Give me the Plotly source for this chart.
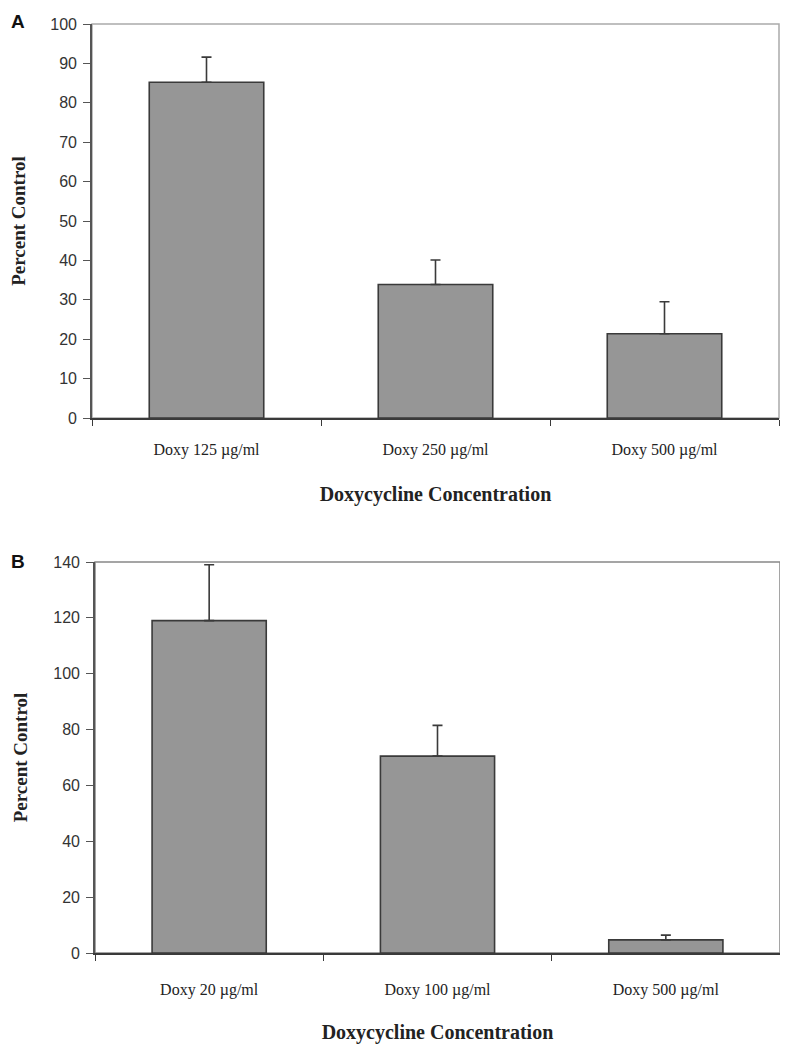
import plotly.graph_objects as go

cats_a = ["Doxy 125 µg/ml", "Doxy 250 µg/ml", "Doxy 500 µg/ml"]
vals_a = [85.2, 33.9, 21.4]
err_a = [6.4, 6.2, 8.1]

cats_b = ["Doxy 20 µg/ml", "Doxy 100 µg/ml", "Doxy 500 µg/ml"]
vals_b = [119.0, 70.5, 4.7]
err_b = [20.0, 11.0, 1.7]

yticks_a = list(range(0, 101, 10))
yticks_b = list(range(0, 141, 20))

W, H = 788, 1050
OFF = 8  # page body margin
def px(x):
    return (x - OFF) / W
def py(y):
    return 1 - (y - OFF) / H

bar_fill = "#969696"
dark = "#3a3a3a"
tickfont = dict(family="Liberation Sans Narrow, Liberation Sans, Arial", size=16, color="#333333")
catfont = dict(family="Liberation Serif, Times New Roman, serif", size=16, color="#222222")
titlefont = dict(family="Liberation Serif, Times New Roman, serif", size=20, color="#222222")
ytitlefont = dict(family="Liberation Serif, Times New Roman, serif", size=19, color="#222222")

fig = go.Figure()
fig.add_trace(go.Bar(
    x=cats_a, y=vals_a, xaxis="x", yaxis="y",
    marker=dict(color=bar_fill, line=dict(color=dark, width=1.6)),
    error_y=dict(type="data", symmetric=False, array=err_a, arrayminus=[0]*len(err_a),
                 color=dark, thickness=1.6, width=5),
    showlegend=False,
))
fig.add_trace(go.Bar(
    x=cats_b, y=vals_b, xaxis="x2", yaxis="y2",
    marker=dict(color=bar_fill, line=dict(color=dark, width=1.6)),
    error_y=dict(type="data", symmetric=False, array=err_b, arrayminus=[0]*len(err_b),
                 color=dark, thickness=1.6, width=5),
    showlegend=False,
))

xcommon = dict(showline=True, linecolor=dark, linewidth=1.6, ticks="outside", ticklen=6,
               tickwidth=1.3, tickcolor=dark, tickson="boundaries", showgrid=False,
               tickfont=catfont, zeroline=False, fixedrange=True, automargin=False)
ycommon = dict(showline=True, linecolor="#555555", linewidth=1.6, ticks="outside", ticklen=7,
               tickwidth=1.3, tickcolor="#555555", showgrid=False, zeroline=False,
               tickfont=tickfont, fixedrange=True, automargin=False, ticklabelstandoff=3)

fig.update_layout(
    width=W, height=H,
    margin=dict(l=0, r=0, t=0, b=0),
    paper_bgcolor="white", plot_bgcolor="white",
    bargap=0.5,
    xaxis=dict(domain=[px(92), px(779)], anchor="y", ticklabelstandoff=16, **xcommon,
               title=dict(text="<b>Doxycycline Concentration</b>", font=titlefont, standoff=29)),
    yaxis=dict(domain=[py(418), py(24)], anchor="x", range=[0, 100], tickvals=yticks_a,
               title=dict(text="<b>Percent Control</b>", font=ytitlefont, standoff=21),
               **ycommon),
    xaxis2=dict(domain=[px(95), px(780)], anchor="y2", ticklabelstandoff=21, **xcommon,
                title=dict(text="<b>Doxycycline Concentration</b>", font=titlefont, standoff=27)),
    yaxis2=dict(domain=[py(953), py(562)], anchor="x2", range=[0, 140], tickvals=yticks_b,
                title=dict(text="<b>Percent Control</b>", font=ytitlefont, standoff=21),
                **ycommon),
    shapes=[
        dict(type="rect", xref="x domain", yref="y domain", x0=0, x1=1, y0=0, y1=1,
             line=dict(color="#aaaaaa", width=1.5), layer="below"),
        dict(type="rect", xref="x2 domain", yref="y2 domain", x0=0, x1=1, y0=0, y1=1,
             line=dict(color="#888888", width=1.5), layer="below"),
    ],
    annotations=[
        dict(text="<b>A</b>", x=px(18), y=py(21), xref="paper", yref="paper",
             xanchor="center", yanchor="middle",
             showarrow=False, font=dict(family="Liberation Sans, Arial", size=19, color="#111111")),
        dict(text="<b>B</b>", x=px(18), y=py(561), xref="paper", yref="paper",
             xanchor="center", yanchor="middle",
             showarrow=False, font=dict(family="Liberation Sans, Arial", size=19, color="#111111")),
    ],
)

fig.write_html("out.html")
